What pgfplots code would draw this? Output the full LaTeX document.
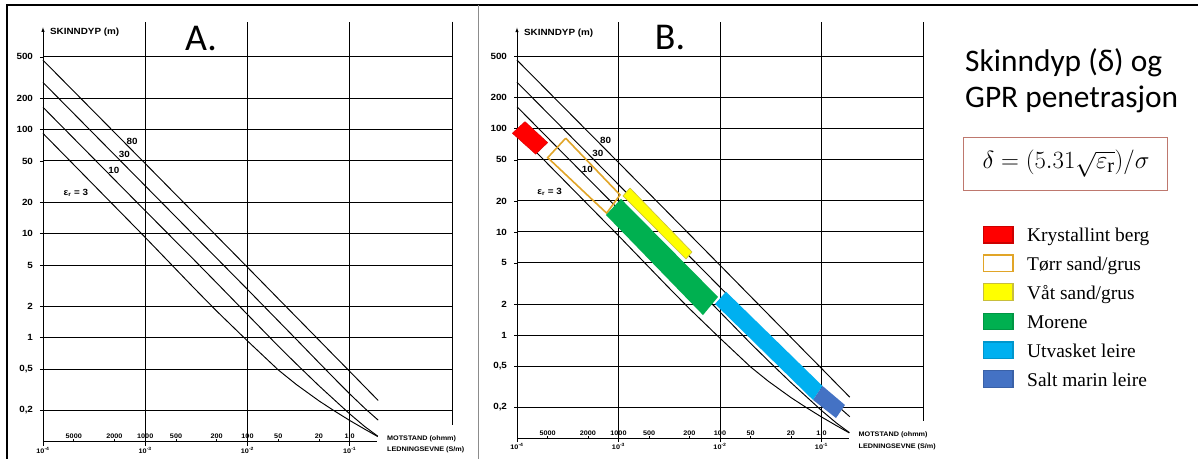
\documentclass[border=0pt]{standalone}
\usepackage{fontspec}
\usepackage{pgfplots}
\pgfplotsset{compat=1.18}
\usetikzlibrary{arrows.meta}
\setmainfont{Liberation Serif}
\newfontfamily\chartfont[FakeStretch=1.1, BoldFeatures={FakeStretch=1.1}]{Liberation Sans}
\newfontfamily\calfont{Carlito}
\definecolor{redC}{RGB}{255,0,0}
\definecolor{orangeC}{RGB}{225,165,40}
\definecolor{yellowC}{RGB}{255,255,0}
\definecolor{yellowB}{RGB}{200,190,60}
\definecolor{greenC}{RGB}{0,176,80}
\definecolor{lblueC}{RGB}{0,176,240}
\definecolor{dblueC}{RGB}{68,114,196}
\definecolor{boxC}{RGB}{190,120,110}
\newcommand\cfa{\chartfont\bfseries\fontsize{9}{10}\selectfont}
\newcommand\cfb{\chartfont\bfseries\fontsize{6.6}{7.5}\selectfont}

\newcommand{\skincommon}{%
  \addplot[black, line width=0.95bp] coordinates {(1e-4,92) (1e-3,9.2) (3e-3,3.0) (5e-3,1.80) (1e-2,0.93) (2e-2,0.49) (3e-2,0.355) (5e-2,0.247) (7e-2,0.199) (0.1,0.16) (0.14,0.132) (0.188,0.112)};
  \addplot[black, line width=0.95bp] coordinates {(1e-4,164) (1e-3,16.6) (3e-3,5.6) (5e-3,3.36) (1e-2,1.67) (2e-2,0.83) (3e-2,0.56) (5e-2,0.345) (7e-2,0.255) (0.1,0.185) (0.14,0.14) (0.188,0.113)};
  \addplot[black, line width=0.95bp] coordinates {(1e-4,284) (1e-3,28.8) (1e-2,2.91) (2e-2,1.45) (3e-2,0.965) (5e-2,0.575) (7e-2,0.41) (0.1,0.288) (0.14,0.21) (0.19,0.161)};
  \addplot[black, line width=0.95bp] coordinates {(1e-4,465) (1e-3,47.2) (1e-2,4.75) (2e-2,2.37) (3e-2,1.58) (5e-2,0.948) (7e-2,0.676) (0.1,0.474) (0.14,0.338) (0.19,0.249)};
  \draw[black, line width=0.9bp] (axis cs:1e-4,0.1) -- (axis cs:0.185,0.1);
  \draw[black, line width=0.9bp, -{Latex[length=5bp,width=3.5bp]}] (axis cs:1e-4,0.1) -- (axis cs:1e-4,970);
  \draw[black, line width=0.9bp] (axis cs:1,1090) -- (axis cs:1,0.146);
  \draw[black, line width=0.7bp] (axis cs:2e-4,0.1) -- ++(0pt,2.5bp) (axis cs:5e-4,0.1) -- ++(0pt,2.5bp) (axis cs:1e-3,0.1) -- ++(0pt,2.5bp) (axis cs:2e-3,0.1) -- ++(0pt,2.5bp) (axis cs:5e-3,0.1) -- ++(0pt,2.5bp) (axis cs:1e-2,0.1) -- ++(0pt,2.5bp) (axis cs:2e-2,0.1) -- ++(0pt,2.5bp) (axis cs:5e-2,0.1) -- ++(0pt,2.5bp) (axis cs:1e-1,0.1) -- ++(0pt,2.5bp);
  \draw[black, line width=0.7bp] (axis cs:1e-4,0.1) -- ++(0pt,-4bp) (axis cs:1e-3,0.1) -- ++(0pt,-4bp) (axis cs:1e-2,0.1) -- ++(0pt,-4bp) (axis cs:1e-1,0.1) -- ++(0pt,-4bp);
  \node[font=\cfb, anchor=base, inner sep=0, yshift=3bp] at (axis cs:2e-4,0.1) {5000};
  \node[font=\cfb, anchor=base, inner sep=0, yshift=3bp] at (axis cs:5e-4,0.1) {2000};
  \node[font=\cfb, anchor=base, inner sep=0, yshift=3bp] at (axis cs:1e-3,0.1) {1000};
  \node[font=\cfb, anchor=base, inner sep=0, yshift=3bp] at (axis cs:2e-3,0.1) {500};
  \node[font=\cfb, anchor=base, inner sep=0, yshift=3bp] at (axis cs:5e-3,0.1) {200};
  \node[font=\cfb, anchor=base, inner sep=0, yshift=3bp] at (axis cs:1e-2,0.1) {100};
  \node[font=\cfb, anchor=base, inner sep=0, yshift=3bp] at (axis cs:2e-2,0.1) {50};
  \node[font=\cfb, anchor=base, inner sep=0, yshift=3bp] at (axis cs:5e-2,0.1) {20};
  \node[font=\cfb, anchor=base, inner sep=0, yshift=3bp] at (axis cs:1e-1,0.1) {1,0};
  \node[font=\cfb, anchor=base, inner sep=0, yshift=-11.5bp] at (axis cs:1e-4,0.1) {10\textsuperscript{-4}};
  \node[font=\cfb, anchor=base, inner sep=0, yshift=-11.5bp] at (axis cs:1e-3,0.1) {10\textsuperscript{-3}};
  \node[font=\cfb, anchor=base, inner sep=0, yshift=-11.5bp] at (axis cs:1e-2,0.1) {10\textsuperscript{-2}};
  \node[font=\cfb, anchor=base, inner sep=0, yshift=-11.5bp] at (axis cs:1e-1,0.1) {10\textsuperscript{-1}};
  \node[font=\cfb, anchor=base west, inner sep=0, yshift=1.7bp] at (axis cs:0.231,0.1) {MOTSTAND (ohmm)};
  \node[font=\cfb, anchor=base west, inner sep=0, yshift=-10bp] at (axis cs:0.231,0.1) {LEDNINGSEVNE (S/m)};
  \node[font=\cfa, anchor=base west, inner sep=0] at (axis cs:1.17e-4,815) {SKINNDYP (m)};
  \node[font=\cfa, inner sep=0] at (axis cs:2.1e-4,24.5) {ε\textsubscript{r} = 3};
  \node[font=\cfa, inner sep=0] at (axis cs:4.94e-4,40.5) {10};
  \node[font=\cfa, inner sep=0] at (axis cs:6.25e-4,58) {30};
  \node[font=\cfa, inner sep=0] at (axis cs:7.45e-4,77) {80};
}

\newcommand\legrow[4]{%
  \draw[#2, fill=#1, line width=1.1bp] (983.5,-#3+8.3) rectangle (1013,-#3-8.3);
  \node[anchor=base west, inner sep=0, font=\fontsize{19.5}{21}\selectfont] at (1027,-#3-7) {#4};}

\begin{document}
\begin{tikzpicture}
\fill[white] (0,0) rectangle (1198bp,-459bp);
\useasboundingbox (0,0) rectangle (1198bp,-459bp);
\draw[black, line width=2.2bp] (6bp,-5bp) -- (1198bp,-5bp);
\draw[black, line width=2.2bp] (7bp,-4bp) -- (7bp,-459bp);
\draw[black!45, line width=0.8bp] (478bp,-5bp) -- (478bp,-459bp);

\begin{axis}[scale only axis, at={(43bp,-441.7bp)}, anchor=south west, width=409bp, height=420bp,
  xmode=log, ymode=log, xmin=1e-4, xmax=1, ymin=0.1, ymax=1090,
  axis line style={draw=none},
  xtick={1e-3,1e-2,1e-1}, xticklabels={,,},
  ytick={0.2,0.5,1,2,5,10,20,50,100,200,500},
  yticklabels={{0,2},{0,5},1,2,5,10,20,50,100,200,500},
  yticklabel style={font=\cfa, xshift=-3.5bp},
  grid=major, major grid style={black, line width=0.9bp},
  x tick style={draw=none}, y tick style={black, line width=0.8bp},
  major tick length=3bp, tick align=outside, ytick pos=left,
  clip=false]
\skincommon
\end{axis}

\begin{axis}[scale only axis, at={(517bp,-438bp)}, anchor=south west, width=406bp, height=416bp,
  xmode=log, ymode=log, xmin=1e-4, xmax=1, ymin=0.1, ymax=1090,
  axis line style={draw=none},
  xtick={1e-3,1e-2,1e-1}, xticklabels={,,},
  ytick={0.2,0.5,1,2,5,10,20,50,100,200,500},
  yticklabels={{0,2},{0,5},1,2,5,10,20,50,100,200,500},
  yticklabel style={font=\cfa, xshift=-3.5bp},
  grid=major, major grid style={black, line width=0.9bp},
  x tick style={draw=none}, y tick style={black, line width=0.8bp},
  major tick length=3bp, tick align=outside, ytick pos=left,
  clip=false]
\skincommon
\addplot[draw=orangeC, line width=1.6bp] coordinates {(3.018e-4,81.2) (2.007e-4,52.6) (7.65e-4,15.2) (1.035e-3,22.9) (3.018e-4,81.2)};
\addplot[draw=redC!85!black, line width=0.4bp, fill=redC] coordinates {(1.199e-4,117.7) (8.99e-5,90.8) (1.528e-4,56.8) (2.007e-4,73.6) (1.199e-4,117.7)};
\addplot[draw=yellowB, line width=0.6bp, fill=yellowC] coordinates {(1.298e-3,26.7) (1.107e-3,22.4) (4.62e-3,5.47) (5.30e-3,6.39) (1.298e-3,26.7)};
\addplot[draw=none, fill=greenC] coordinates {(1.058e-3,20.9) (7.53e-4,14.6) (6.80e-3,1.56) (9.56e-3,2.34) (1.058e-3,20.9)};
\addplot[draw=none, fill=lblueC] coordinates {(1.146e-2,2.63) (8.93e-3,2.00) (8.25e-2,0.234) (0.1023,0.320) (1.146e-2,2.63)};
\addplot[draw=none, fill=dblueC] coordinates {(0.1023,0.320) (8.25e-2,0.234) (0.1390,0.1563) (0.1704,0.209) (0.1023,0.320)};
\end{axis}

\node[font=\calfont\fontsize{38}{40}\selectfont, anchor=base, inner sep=0] at (201bp,-50bp) {A.};
\node[font=\calfont\fontsize{38}{40}\selectfont, anchor=base, inner sep=0] at (670bp,-49bp) {B.};

\node[font=\calfont\fontsize{31.5}{33}\selectfont, anchor=base west, inner sep=0] at (965bp,-71bp) {Skinndyp (δ) og};
\node[font=\calfont\fontsize{31.5}{33}\selectfont, anchor=base west, inner sep=0] at (965bp,-107bp) {GPR penetrasjon};

\draw[boxC, line width=0.9bp] (963bp,-137bp) rectangle (1167bp,-190bp);
\node[inner sep=0] at (1066bp,-163.5bp) {\fontsize{29}{31}\selectfont $\delta = (5.31\sqrt{\varepsilon_{\mathrm{r}}})/\sigma$};

\begin{scope}[x=1bp,y=1bp]
\legrow{redC}{redC!80!black}{234.7}{Krystallint berg}
\legrow{white}{orangeC}{263.3}{Tørr sand/grus}
\legrow{yellowC}{yellowB}{292.2}{Våt sand/grus}
\legrow{greenC}{greenC!85!black}{321.4}{Morene}
\legrow{lblueC}{lblueC!85!black}{350.3}{Utvasket leire}
\legrow{dblueC}{dblueC!85!black}{379.2}{Salt marin leire}
\end{scope}
\end{tikzpicture}
\end{document}
